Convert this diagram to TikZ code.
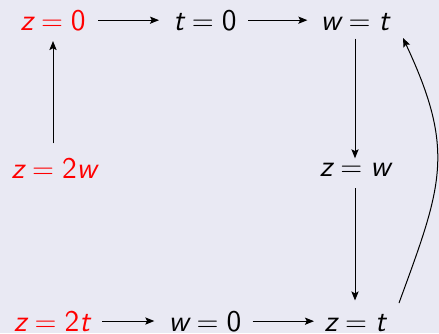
\documentclass[tikz,border=0pt]{standalone}
\usepackage{fontspec}
\usetikzlibrary{arrows.meta}
\definecolor{bg}{RGB}{233,233,243}
\newcommand\sv[1]{\textsf{\itshape #1}}
\newcommand\sn[1]{\textsf{#1}}
\begin{document}
\begin{tikzpicture}[x=0.5pt,y=-0.5pt,
  lbl/.style={anchor=base,inner sep=0pt,font=\fontsize{15pt}{18pt}\selectfont},
  hot/.style={lbl,text=red},
  arr/.style={line width=0.5pt,-{Stealth[length=4.5pt,width=3.6pt,inset=0.9pt]}}]
\fill[bg] (0,0) rectangle (439,333);
\useasboundingbox (0,0) rectangle (439,333);
% nodes
\node[hot] (z0) at (53,30) {$\sv{z} = \sn{0}$};
\node[lbl] (t0) at (205,30) {$\sv{t} = \sn{0}$};
\node[lbl] (wt) at (355,30) {$\sv{w} = \sv{t}$};
\node[hot] (z2w) at (54,178) {$\sv{z} = \sn{2}\sv{w}$};
\node[lbl] (zw) at (355,176) {$\sv{z} = \sv{w}$};
\node[hot] (z2t) at (52,331) {$\sv{z} = \sn{2}\sv{t}$};
\node[lbl] (w0) at (205,331) {$\sv{w} = \sn{0}$};
\node[lbl] (zt) at (355,331) {$\sv{z} = \sv{t}$};
% horizontal arrows
\draw[arr,shorten <=6pt,shorten >=7pt] (z0.east) -- (z0.east -| t0.west);
\draw[arr,shorten <=5.5pt,shorten >=6.5pt] (t0.east) -- (t0.east -| wt.west);
\draw[arr,shorten <=6pt,shorten >=7pt] (z2t.east) -- (z2t.east -| w0.west);
\draw[arr,shorten <=5.5pt,shorten >=5pt] (w0.east) -- (w0.east -| zt.west);
% vertical arrows
\draw[arr,shorten <=7pt,shorten >=5pt] (z0.south |- z2w.north) -- (z0.south);
\draw[arr,shorten <=4pt,shorten >=2pt] (wt.south) -- (wt.south |- zw.north);
\draw[arr,shorten <=6pt,shorten >=6.5pt] (zw.south) -- (zw.south |- zt.north);
% curved arrow
\coordinate (cs) at (399,303);
\coordinate (ce) at (403,38);
\draw[arr] (cs) .. controls (442,185.5) and (456,151) .. (ce);
\end{tikzpicture}
\end{document}
